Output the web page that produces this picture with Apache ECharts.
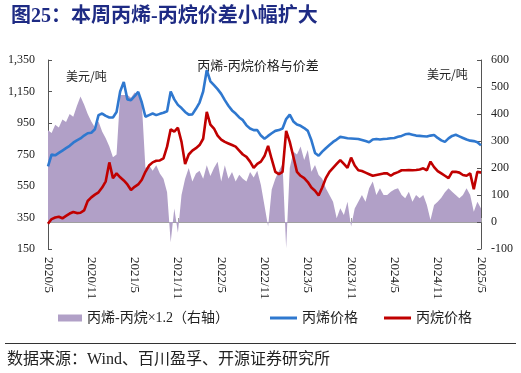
<!DOCTYPE html>
<html><head><meta charset="utf-8">
<script src="https://cdn.jsdelivr.net/npm/echarts@6/dist/echarts.min.js"></script>
<style>html,body{margin:0;padding:0;background:#fff}#c{width:521px;height:373px}</style>
</head><body><div id="c"></div>
<script>
// x tick labels every 6 months starting 2020/5
const xTickLabels = ['2020/5','2020/11','2021/5','2021/11','2022/5','2022/11','2023/5','2023/11','2024/5','2024/11','2025/5'];
// half-month sample positions (months since 2020/5)
const months = [];
for (let i = 0; i <= 120; i++) months.push(i / 2);

// 丙烯价格 (USD/t, left axis)
const propylene = [675,750,745,760,775,790,805,825,840,852,870,885,888,910,1000,1010,995,985,985,1020,
1150,1210,1100,1095,1120,1148,1080,990,1000,1010,1000,1008,1015,1025,1150,1100,1065,1045,1020,1003,
1005,1040,1080,1150,1285,1215,1190,1165,1135,1095,1060,1030,1010,985,968,935,915,905,905,870,
850,868,885,900,905,915,975,1003,960,940,932,918,900,840,760,742,768,790,810,830,
845,862,858,853,852,850,848,842,835,828,845,848,845,848,850,853,855,862,868,878,
882,876,870,868,866,864,870,874,855,840,830,852,868,875,865,855,845,838,835,828,808];

// 丙烷价格 (USD/t, left axis)
const propane = [310,340,350,355,345,360,375,385,378,380,395,455,478,495,510,540,580,700,600,630,
605,585,560,525,545,560,590,640,680,700,710,712,725,800,910,895,920,830,690,750,
775,790,810,850,1020,940,915,870,845,830,820,810,800,775,750,735,705,665,690,705,
740,805,720,640,625,640,900,830,736,640,615,600,575,540,520,490,540,600,640,665,
690,715,690,665,730,680,650,645,635,625,615,620,625,630,630,615,630,638,650,650,
652,650,652,655,662,650,705,670,645,630,615,600,640,640,635,620,615,630,530,640,635];

// 丙烯-丙烷×1.2 (USD/t, right axis)
const spread = [340,330,360,350,380,370,400,390,430,465,435,400,372,350,372,335,310,280,240,250,
470,470,470,460,480,470,440,200,210,190,210,180,160,110,-75,50,-40,100,160,200,
150,180,190,160,210,170,200,223,150,210,160,185,150,175,160,150,185,165,190,137,
60,-17,120,160,190,215,-97,200,260,250,280,230,267,186,211,174,160,125,100,75,
14,51,26,75,-17,50,75,100,75,125,150,100,125,100,100,112,120,125,100,88,
112,75,100,88,100,63,7,63,75,90,110,125,112,100,88,100,125,100,38,75,50];

const pair = arr => arr.map((v, i) => [months[i], v]);
const serifFont = '"Liberation Serif", "Noto Sans CJK SC", serif';
const cjkFont = '"Noto Sans CJK SC", sans-serif';
const fmtComma = v => String(v).replace(/\B(?=(\d{3})+(?!\d))/g, ',');

const chart = echarts.init(document.getElementById('c'), null, {renderer: 'canvas'});
chart.setOption({
  animation: false,
  backgroundColor: '#fff',
  title: {
    text: '图25：本周丙烯-丙烷价差小幅扩大',
    left: 6, top: 2,
    textStyle: {fontSize: 20, fontWeight: 'bold', color: '#1e2b84', fontFamily: serifFont}
  },
  grid: {left: 48, right: 40, top: 60, bottom: 124, containLabel: false},
  legend: [
    {data: [{name: '丙烯-丙烷×1.2（右轴）', icon: 'path://M0,0H24V7H0Z'}], left: 58, top: 311, padding: 0,
     itemWidth: 24, itemHeight: 7, itemStyle: {borderWidth: 0},
     textStyle: {fontSize: 14, fontFamily: serifFont, color: '#222'}},
    {data: [{name: '丙烯价格', icon: 'path://M0,0H27V3H0Z'}], left: 270, top: 311, padding: 0,
     itemWidth: 27, itemHeight: 7, itemStyle: {borderWidth: 0},
     textStyle: {fontSize: 14, fontFamily: serifFont, color: '#222'}},
    {data: [{name: '丙烷价格', icon: 'path://M0,0H27V3H0Z'}], left: 384, top: 311, padding: 0,
     itemWidth: 27, itemHeight: 7, itemStyle: {borderWidth: 0},
     textStyle: {fontSize: 14, fontFamily: serifFont, color: '#222'}}
  ],
  xAxis: {
    type: 'value', min: 0, max: 60, interval: 6,
    axisLine: {show: true, lineStyle: {color: '#a0a0a0', width: 1}},
    axisTick: {show: true, inside: true, length: 4, lineStyle: {color: '#a0a0a0'}},
    splitLine: {show: false},
    axisLabel: {rotate: -90, margin: 8, fontSize: 13, fontFamily: serifFont, color: '#222',
      formatter: v => xTickLabels[Math.round(v / 6)] || ''}
  },
  yAxis: [
    {type: 'value', min: 150, max: 1350, interval: 200, position: 'left',
     axisLine: {show: true, lineStyle: {color: '#555', width: 1}},
     axisTick: {show: true, inside: true, length: 4, lineStyle: {color: '#555'}},
     splitLine: {show: false},
     axisLabel: {margin: 13, fontSize: 12, fontFamily: serifFont, color: '#222', formatter: fmtComma}},
    {type: 'value', min: -100, max: 600, interval: 100, position: 'right',
     axisLine: {show: true, lineStyle: {color: '#555', width: 1}},
     axisTick: {show: true, inside: true, length: 4, lineStyle: {color: '#555'}},
     splitLine: {show: false},
     axisLabel: {margin: 10, fontSize: 12, fontFamily: serifFont, color: '#222'}}
  ],
  series: [
    {name: '丙烯-丙烷×1.2（右轴）', type: 'line', yAxisIndex: 1, data: pair(spread),
     symbol: 'none', showSymbol: false, color: '#b1a0c7',
     lineStyle: {width: 0, opacity: 0}, areaStyle: {color: '#b1a0c7', opacity: 1}, z: 1},
    {name: '丙烯价格', type: 'line', yAxisIndex: 0, data: pair(propylene),
     symbol: 'none', showSymbol: false, color: '#2f78cf',
     lineStyle: {width: 2.6, color: '#2f78cf'}, z: 3},
    {name: '丙烷价格', type: 'line', yAxisIndex: 0, data: pair(propane),
     symbol: 'none', showSymbol: false, color: '#c00000',
     lineStyle: {width: 2.6, color: '#c00000'}, z: 4}
  ],
  graphic: [
    {type: 'text', x: 258, y: 65, style: {text: '丙烯-丙烷价格与价差', align: 'center', verticalAlign: 'middle',
      fontSize: 13, fontFamily: cjkFont, fill: '#222'}},
    {type: 'text', x: 66, y: 76, style: {text: '美元/吨', align: 'left', verticalAlign: 'middle',
      fontSize: 12, fontFamily: cjkFont, fill: '#222'}},
    {type: 'text', x: 427, y: 74, style: {text: '美元/吨', align: 'left', verticalAlign: 'middle',
      fontSize: 12, fontFamily: cjkFont, fill: '#222'}},
    {type: 'line', shape: {x1: 5, y1: 343.5, x2: 516, y2: 343.5}, style: {stroke: '#333', lineWidth: 1}},
    {type: 'text', x: 7, y: 360, style: {text: '数据来源：Wind、百川盈孚、开源证券研究所', align: 'left', verticalAlign: 'middle',
      fontSize: 16, fontFamily: serifFont, fill: '#222'}}
  ]
});
</script>
</body></html>
